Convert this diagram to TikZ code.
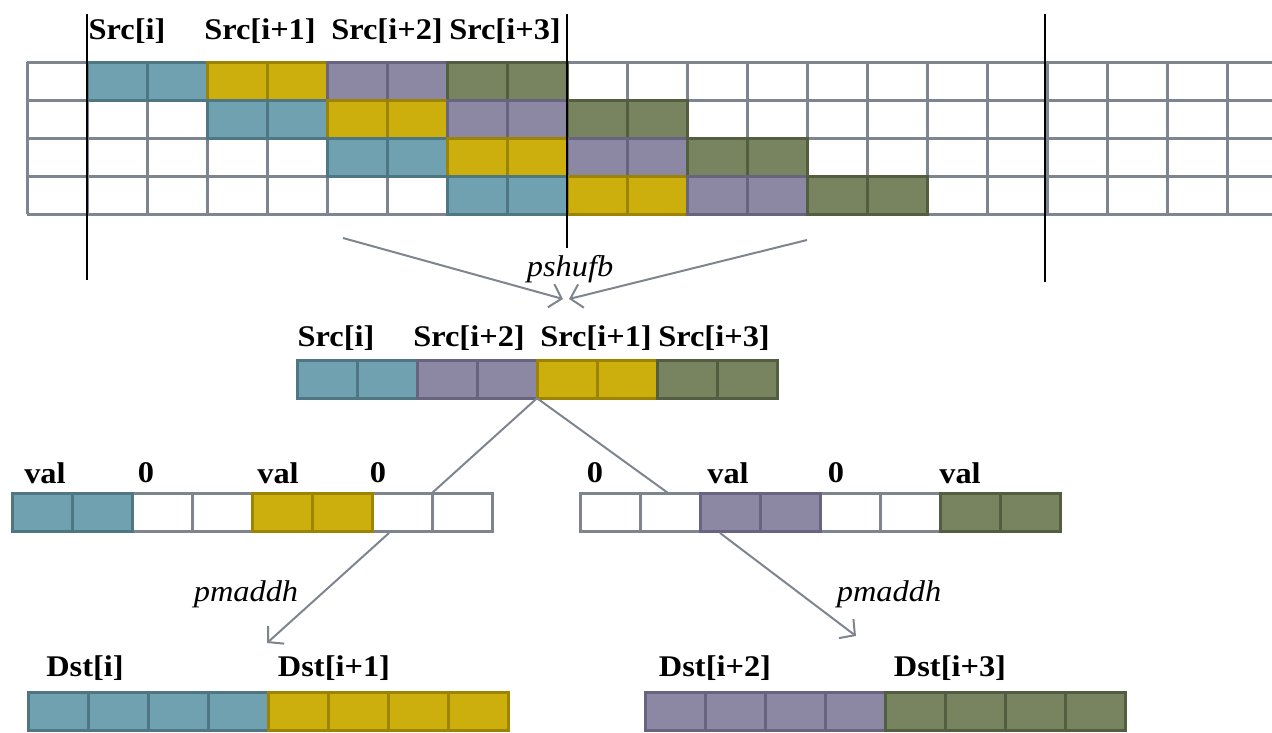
\documentclass[tikz,border=0pt]{standalone}
\usepackage{graphicx}
\usepackage{fontspec}
\setmainfont{Liberation Serif}
\usetikzlibrary{arrows.meta}

\definecolor{tealF}{HTML}{6FA1B0}\definecolor{tealD}{HTML}{4E7783}
\definecolor{yelF}{HTML}{CCAE0C}\definecolor{yelD}{HTML}{9C8300}
\definecolor{purF}{HTML}{8C88A4}\definecolor{purD}{HTML}{686480}
\definecolor{grnF}{HTML}{77845F}\definecolor{grnD}{HTML}{535E40}
\definecolor{gridG}{HTML}{7F858F}

% slightly widened lettering for the labels
\newcommand\bl[1]{\scalebox{1.08}[1]{#1}}
\newcommand\op[1]{\scalebox{1.08}[1]{#1}}

\tikzset{
  cellW/.style={fill=white,draw=gridG,line width=3pt},
  cellT/.style={fill=tealF,draw=tealD,line width=3pt},
  cellY/.style={fill=yelF,draw=yelD,line width=3pt},
  cellP/.style={fill=purF,draw=purD,line width=3pt},
  cellG/.style={fill=grnF,draw=grnD,line width=3pt},
  gridline/.style={draw=gridG,line width=3pt},
  band/.style={inner sep=0pt,minimum height=38pt,minimum width=480pt},
  lbl/.style={inner sep=0pt,font=\fontsize{30}{34}\selectfont\bfseries},
  oplbl/.style={inner sep=0pt,font=\fontsize{30}{34}\selectfont\itshape},
  divider/.style={draw=black,line width=1.6pt},
  flow/.style={draw=gridG,line width=2pt},
  flowarrow/.style={flow,-{Straight Barb[length=11pt,width=24pt,line width=2pt]}},
}

% a run of #4 cells of style #3, starting at (#1,#2)
\newcommand\cellrun[4]{\foreach \k in {1,...,#4}
  \draw[#3] ({#1+60*(\k-1)},#2) rectangle ++(60,38);}

\begin{document}
\begin{tikzpicture}[x=1pt,y=-1pt]
\useasboundingbox (0,0) rectangle (1272,732);

% ---------- source register sequence ----------
\foreach \yy in {62,100,138,176,214}
  \draw[gridline] (27,\yy) -- (1272,\yy);
\foreach \k in {0,...,20}
  \draw[gridline] ({27+60*\k},62) -- ({27+60*\k},214);
\foreach \r in {0,...,3}{
  \cellrun{87+120*\r}{62+38*\r}{cellT}{2}
  \cellrun{207+120*\r}{62+38*\r}{cellY}{2}
  \cellrun{327+120*\r}{62+38*\r}{cellP}{2}
  \cellrun{447+120*\r}{62+38*\r}{cellG}{2}
}
\node[lbl] (s0) at (127,31) {\bl{Src[i]}};
\node[lbl] (s1) at (260,31) {\bl{Src[i+1]}};
\node[lbl] (s2) at (387,31) {\bl{Src[i+2]}};
\node[lbl] (s3) at (505,31) {\bl{Src[i+3]}};

% 16-byte lane boundaries
\coordinate (d1t) at (87,14);    \coordinate (d1b) at (87,280);
\coordinate (d2t) at (567,14);   \coordinate (d2b) at (567,248);
\coordinate (d3t) at (1045,14);  \coordinate (d3b) at (1045,282);
\draw[divider] (d1t) -- (d1b);
\draw[divider] (d2t) -- (d2b);
\draw[divider] (d3t) -- (d3b);

% ---------- shuffled register ----------
\node[band] (mid) at (537,379) {};
\cellrun{297}{360}{cellT}{2}
\cellrun{417}{360}{cellP}{2}
\cellrun{537}{360}{cellY}{2}
\cellrun{657}{360}{cellG}{2}
\node[lbl] (m0) at (336,338) {\bl{Src[i]}};
\node[lbl] (m2) at (469,338) {\bl{Src[i+2]}};
\node[lbl] (m1) at (596,338) {\bl{Src[i+1]}};
\node[lbl] (m3) at (714,338) {\bl{Src[i+3]}};

\coordinate (shL) at (343,238);
\coordinate (shR) at (807,240);
\coordinate (shTip) at (566,299);
\draw[flowarrow] (shL) -- ([xshift=-3pt]shTip);
\draw[flowarrow] (shR) -- ([xshift=3pt]shTip);
\node[oplbl] (shuf) at (570,269) {\op{pshufb}};

% ---------- zero-extended halves ----------
\node[band] (lo) at (252,512.5) {};
\cellrun{12}{493.5}{cellW}{8}
\cellrun{12}{493.5}{cellT}{2}
\cellrun{252}{493.5}{cellY}{2}
\node[lbl] (v0) at (45,473) {\bl{val}};
\node[lbl] (z0) at (146,473) {\bl{0}};
\node[lbl] (v1) at (278,473) {\bl{val}};
\node[lbl] (z1) at (378,473) {\bl{0}};

\node[band] (hi) at (820,512.5) {};
\cellrun{580}{493.5}{cellW}{8}
\cellrun{700}{493.5}{cellP}{2}
\cellrun{940}{493.5}{cellG}{2}
\node[lbl] (z2) at (595,473) {\bl{0}};
\node[lbl] (v2) at (728,473) {\bl{val}};
\node[lbl] (z3) at (836,473) {\bl{0}};
\node[lbl] (v3) at (960,473) {\bl{val}};

\coordinate (loIn) at (432,493);
\coordinate (hiIn) at (668,493);
\draw[flow] (mid.south) -- (loIn);
\draw[flow] (mid.south) -- (hiIn);

% ---------- destination words ----------
\node[band] (dlo) at (268,711) {};
\cellrun{28}{692}{cellT}{4}
\cellrun{268}{692}{cellY}{4}
\node[lbl] (t0) at (85,668) {\bl{Dst[i]}};
\node[lbl] (t1) at (334,668) {\bl{Dst[i+1]}};

\node[band] (dhi) at (885,711) {};
\cellrun{645}{692}{cellP}{4}
\cellrun{885}{692}{cellG}{4}
\node[lbl] (t2) at (715,668) {\bl{Dst[i+2]}};
\node[lbl] (t3) at (950,668) {\bl{Dst[i+3]}};

\coordinate (loOut) at (389,533);
\coordinate (loTip) at (267,643);
\coordinate (hiOut) at (720,533);
\coordinate (hiTip) at (856,636);
\draw[flowarrow] (loOut) -- (loTip);
\draw[flowarrow] (hiOut) -- (hiTip);
\node[oplbl] (ma0) at (246,594) {\op{pmaddh}};
\node[oplbl] (ma1) at (889,594) {\op{pmaddh}};
\end{tikzpicture}
\end{document}
